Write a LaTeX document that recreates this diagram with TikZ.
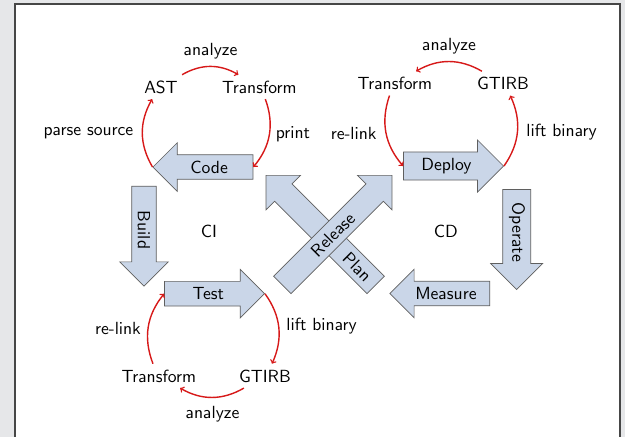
\documentclass[tikz,border=0pt]{standalone}
\usetikzlibrary{shapes.arrows}
\font\lbl=cmss10 at 17.6pt
\definecolor{pagebg}{RGB}{230,231,233}
\definecolor{framecol}{RGB}{70,70,70}
\definecolor{arrowfill}{RGB}{202,214,232}
\definecolor{arrowedge}{RGB}{95,95,95}
\definecolor{cyclered}{RGB}{215,25,25}
\begin{document}
\begin{tikzpicture}[x=1pt,y=1pt,
  txt/.style={font=\lbl, inner sep=5.87pt, text=black},
  blk/.style={single arrow, draw=arrowedge, fill=arrowfill, line width=0.7pt,
    font=\lbl, inner sep=5.87pt, minimum height=100pt,
    single arrow head extend=12pt},
  cyc/.style={->, draw=cyclered, line width=1.4pt}]
\useasboundingbox (0,0) rectangle (625,-437);
\fill[pagebg] (0,0) rectangle (625,-437);
\draw[framecol, line width=1.6pt, fill=white] (14.8,-3.8) rectangle (620.2,-450);

% block arrows of the two loops
\node[blk, shape border rotate=180, anchor=tip] (code) at (152.5,-167) {Code};
\node[blk, anchor=tip] (deploy) at (504,-166) {Deploy};
\node[blk, anchor=tip] (test) at (265,-293.7) {Test};
\node[blk, shape border rotate=180, anchor=tip] (measure) at (389.3,-293.5) {Measure};
\node[blk, rotate=-90, anchor=tip] (build) at (144,-286.7) {Build};
\node[blk, rotate=-90, anchor=tip] (operate) at (516.7,-290) {Operate};
\node[blk, minimum height=155pt, rotate=-45, shape border rotate=180, anchor=tip] (plan) at (265.7,-175) {\phantom{Plan}};
\node[txt, rotate=-45] (plantext) at (357.3,-267.3) {Plan};
\node[blk, minimum height=155pt, rotate=45, anchor=tip] (release) at (392.3,-175) {Release};

\node[txt, anchor=base] (ci) at (209,-237.5) {CI};
\node[txt, anchor=base] (cd) at (445.8,-237.5) {CD};

% source-level loop around Code
\node[txt, anchor=base] (astA) at (161,-93) {AST};
\node[txt, anchor=base] (trA) at (259.5,-93) {Transform};
\node[txt, anchor=base] (anA) at (210.5,-55) {analyze};
\node[txt, anchor=base] (psA) at (88.5,-135) {parse source};
\node[txt, anchor=base] (prA) at (293,-138) {print};
\draw[cyc] (astA) to[bend left=30] (trA);
\draw[cyc] (trA) to[bend left=30] (code.tail);
\draw[cyc] (code.tip) to[bend left=30] (astA);

% binary loop around Deploy
\node[txt, anchor=base] (trB) at (395,-89.5) {Transform};
\node[txt, anchor=base] (gtB) at (503,-89.5) {GTIRB};
\node[txt, anchor=base] (anB) at (449,-50) {analyze};
\node[txt, anchor=base] (rlB) at (353.7,-139.5) {re-link};
\node[txt, anchor=base] (lbB) at (561.7,-136) {lift binary};
\draw[cyc] (gtB) to[bend right=30] (trB);
\draw[cyc] (trB) to[bend right=30] (deploy.tail);
\draw[cyc] (deploy.tip) to[bend right=30] (gtB);

% binary loop around Test
\node[txt, anchor=base] (trC) at (159,-382) {Transform};
\node[txt, anchor=base] (gtC) at (265,-382) {GTIRB};
\node[txt, anchor=base] (anC) at (212.5,-418) {analyze};
\node[txt, anchor=base] (rlC) at (118,-334) {re-link};
\node[txt, anchor=base] (lbC) at (321.7,-330) {lift binary};
\draw[cyc] (test.tip) to[bend left=30] (gtC);
\draw[cyc] (gtC) to[bend left=30] (trC);
\draw[cyc] (trC) to[bend left=30] (test.tail);
\end{tikzpicture}
\end{document}
